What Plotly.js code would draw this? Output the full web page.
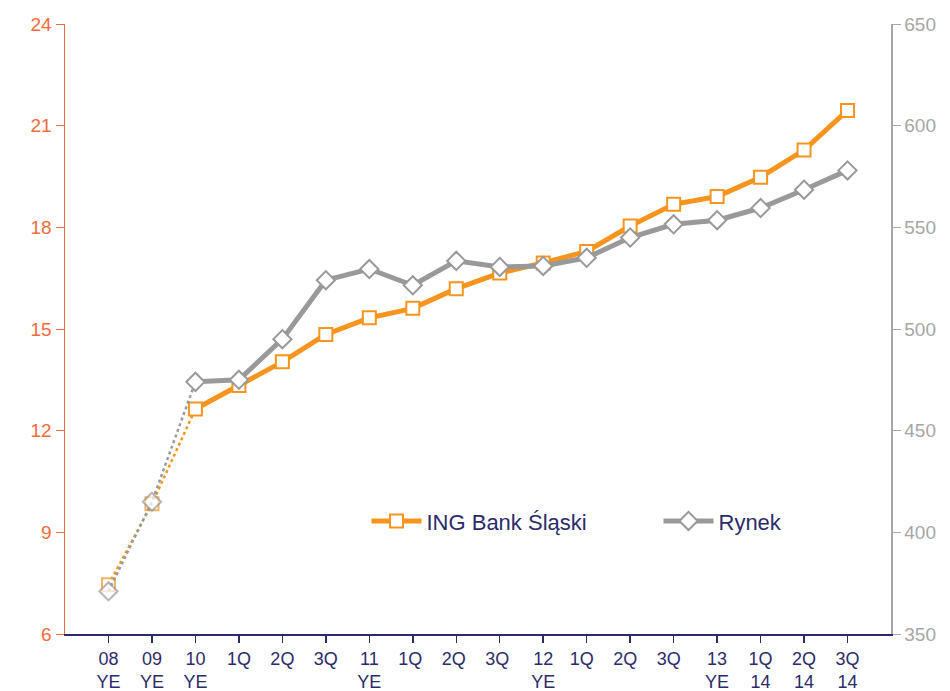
<!DOCTYPE html>
<html>
<head>
<meta charset="utf-8">
<script src="https://cdn.plot.ly/plotly-3.0.1.min.js"></script>
<style>html,body{margin:0;padding:0;background:#fff;}#chart{width:950px;height:691px;}</style>
</head>
<body>
<div id="chart"></div>
<script>
var categories = ["08<br>YE","09<br>YE","10<br>YE","1Q","2Q","3Q","11<br>YE","1Q ","2Q ","3Q ","12<br>YE","1Q  ","2Q  ","3Q  ","13<br>YE","1Q<br>14","2Q<br>14","3Q<br>14"];
var ingValues = [7.45, 9.84, 12.64, 13.33, 14.03, 14.84, 15.33, 15.61, 16.19, 16.65, 16.95, 17.29, 18.04, 18.68, 18.91, 19.48, 20.28, 21.45];
var rynekValues = [371, 415, 474, 475, 495, 524, 529.5, 521.5, 533.5, 530.5, 531, 535, 545, 551.5, 553.5, 559.5, 568.5, 578];

var orange = "#F7941D";
var gray = "#999999";
var xIdx = categories.map(function(_, i){ return i; });

function slice(a, s, e){ return a.slice(s, e); }

var traces = [
  {x: slice(xIdx,0,3), y: slice(ingValues,0,3), yaxis: "y", mode: "lines+markers", showlegend: false, hoverinfo: "skip",
   line: {color: orange, width: 2.5, dash: "dot"},
   marker: {symbol: "square", size: [13,13,0], color: "#fff", line: {color: orange, width: 2}}},
  {x: slice(xIdx,2), y: slice(ingValues,2), yaxis: "y", mode: "lines+markers", name: "ING Bank Śląski",
   line: {color: orange, width: 5},
   marker: {symbol: "square", size: 13, color: "#fff", line: {color: orange, width: 2}}},
  {x: slice(xIdx,0,3), y: slice(rynekValues,0,3), yaxis: "y2", mode: "lines+markers", showlegend: false, hoverinfo: "skip",
   line: {color: gray, width: 2.5, dash: "dot"},
   marker: {symbol: "diamond", size: [14,14,0], color: "#fff", line: {color: gray, width: 2}}},
  {x: slice(xIdx,2), y: slice(rynekValues,2), yaxis: "y2", mode: "lines+markers", name: "Rynek",
   line: {color: gray, width: 5},
   marker: {symbol: "diamond", size: 14, color: "#fff", line: {color: gray, width: 2}}}
];

var layout = {
  width: 950, height: 691,
  margin: {l: 65, r: 59, t: 24, b: 57, autoexpand: false},
  paper_bgcolor: "#fff", plot_bgcolor: "#fff",
  font: {family: "Liberation Sans, Arial, sans-serif", size: 18, color: "#2B2B6B"},
  showlegend: true,
  legend: {orientation: "h", x: 0.365, y: 0.185, xanchor: "left", yanchor: "middle",
           font: {size: 22, color: "#2B2B6B"}, itemwidth: 50, entrywidth: 227, bgcolor: "rgba(0,0,0,0)"},
  xaxis: {
    range: [-1, 18], tickmode: "array", tickvals: xIdx, ticktext: categories,
    showgrid: false, zeroline: false, showline: true, linecolor: "#2B2B6B", linewidth: 2,
    ticks: "outside", ticklen: 7, tickcolor: "#2B2B6B", tickwidth: 1.5,
    tickfont: {size: 18, color: "#2B2B6B"}
  },
  yaxis: {
    range: [6, 24], tickvals: [6, 9, 12, 15, 18, 21, 24],
    showgrid: false, zeroline: false, showline: true, linecolor: "#F26B3A", linewidth: 1.5,
    ticks: "outside", ticklen: 8, tickcolor: "#F26B3A",
    tickfont: {size: 19, color: "#F26B3A"}
  },
  yaxis2: {
    range: [350, 650], tickvals: [350, 400, 450, 500, 550, 600, 650], overlaying: "y", side: "right",
    showgrid: false, zeroline: false, showline: true, linecolor: "#A6A6A6", linewidth: 1.5,
    ticks: "outside", ticklen: 8, tickcolor: "#A6A6A6",
    tickfont: {size: 19, color: "#A6A6A6"}
  }
};

Plotly.newPlot("chart", traces, layout, {displayModeBar: false, staticPlot: true});
</script>
</body>
</html>
